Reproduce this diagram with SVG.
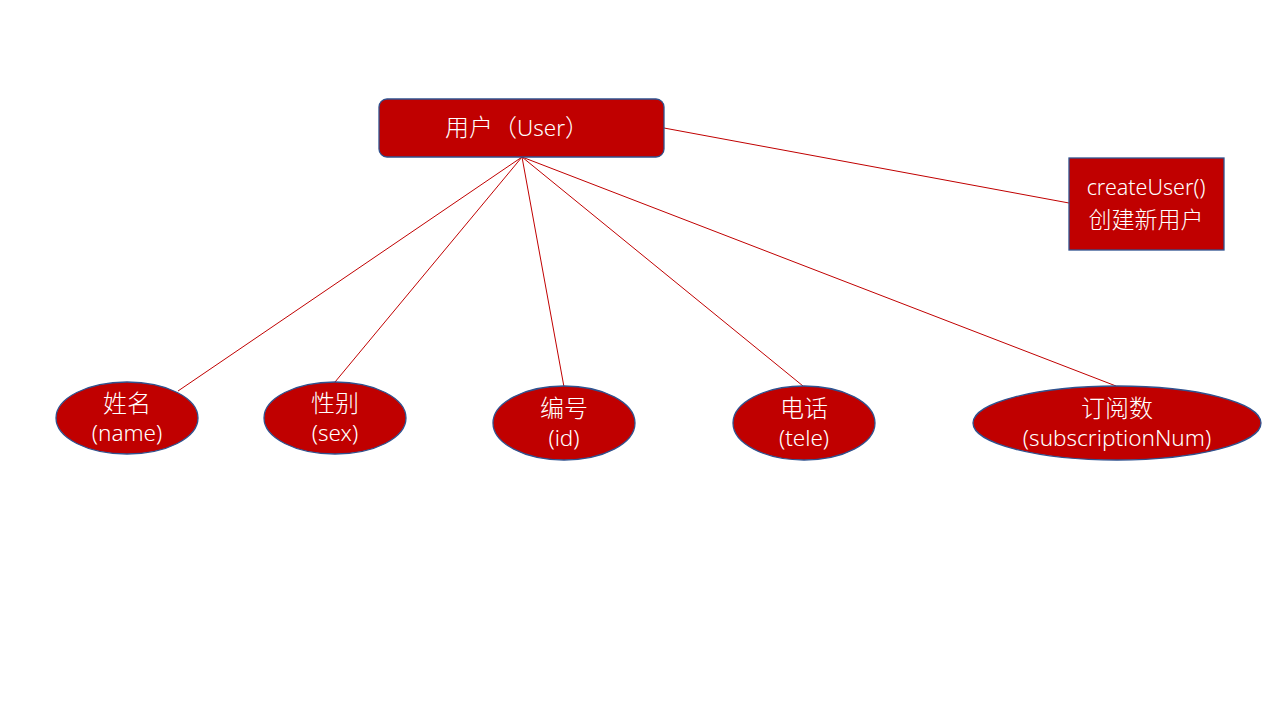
<svg xmlns="http://www.w3.org/2000/svg" width="1280" height="720" viewBox="0 0 1280 720">
<style>
.box{fill:#C00000;stroke:#2F528F;stroke-width:1.3}
.t{fill:#FFFFFF;font-family:"Noto Sans","Liberation Sans",sans-serif;font-weight:300;font-size:22.5px;text-anchor:middle}
.z{fill:#FFFFFF;font-family:"Noto Sans CJK SC",sans-serif;font-weight:300;font-size:24px;text-anchor:middle}
.c{stroke:#C00000;stroke-width:1;fill:none}
</style>
<rect width="1280" height="720" fill="#FFFFFF"/>
<g id="connectors">
<line class="c" x1="664" y1="128" x2="1069" y2="203"/>
<line class="c" x1="522" y1="157" x2="178" y2="391"/>
<line class="c" x1="522" y1="157" x2="335" y2="382"/>
<line class="c" x1="522" y1="157" x2="564" y2="387"/>
<line class="c" x1="522" y1="157" x2="803" y2="386"/>
<line class="c" x1="522" y1="157" x2="1116" y2="386"/>
</g>
<g id="user">
<rect class="box" x="379" y="99" width="285" height="58" rx="8"/>
<text class="z" x="517" y="136">用户（<tspan font-family="Noto Sans" font-size="22.5">User</tspan>）</text>
</g>
<g id="createUser">
<rect class="box" x="1069" y="158" width="155" height="92"/>
<text class="t" x="1146" y="195" style="font-size:21.5px">createUser()</text>
<text class="z" x="1146" y="228" style="font-size:23px">创建新用户</text>
</g>
<g id="name">
<ellipse class="box" cx="127" cy="418" rx="71" ry="36"/>
<text class="z" x="127" y="412">姓名</text>
<text class="t" x="127" y="441">(name)</text>
</g>
<g id="sex">
<ellipse class="box" cx="335" cy="418" rx="71" ry="36"/>
<text class="z" x="335" y="412">性别</text>
<text class="t" x="335" y="441">(sex)</text>
</g>
<g id="id">
<ellipse class="box" cx="564" cy="423" rx="71" ry="37"/>
<text class="z" x="564" y="417">编号</text>
<text class="t" x="564" y="446">(id)</text>
</g>
<g id="tele">
<ellipse class="box" cx="804" cy="423" rx="71" ry="37"/>
<text class="z" x="804" y="417">电话</text>
<text class="t" x="804" y="446">(tele)</text>
</g>
<g id="subscriptionNum">
<ellipse class="box" cx="1117" cy="423" rx="144" ry="37"/>
<text class="z" x="1117" y="417">订阅数</text>
<text class="t" x="1117" y="446">(subscriptionNum)</text>
</g>
</svg>
